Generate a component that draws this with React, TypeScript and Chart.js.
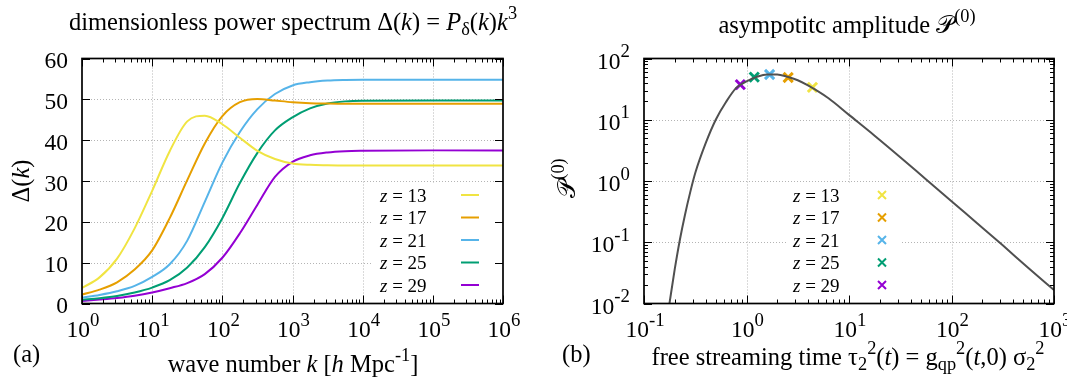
import React, { useEffect, useRef } from "react";
import { Chart, registerables } from "chart.js";

Chart.register(...registerables);

const SERIF = '"Liberation Serif", "DejaVu Serif", serif';
const SCRIPT = '"DejaVu Serif", "DejaVu Sans", "Noto Sans", serif';

// ---------------- panel (a): dimensionless power spectrum ----------------
const kValues = [1, 1.778, 3.162, 5.623, 10, 17.78, 31.62, 56.23, 100, 177.8, 316.2, 562.3, 1000, 1778, 3162, 5623, 1e4, 1e5, 1e6];
const deltaZ13 = [3.8, 6.4, 11.0, 18.4, 27.6, 37.3, 44.6, 46.0, 43.9, 40.6, 37.4, 35.4, 34.3, 33.95, 33.85, 33.8, 33.8, 33.8, 33.8];
const deltaZ17 = [2.2, 3.4, 5.2, 8.3, 13.0, 20.9, 30.2, 39.2, 45.9, 49.3, 50.1, 49.7, 49.3, 49.05, 48.95, 48.9, 48.9, 48.9, 48.9];
const deltaZ21 = [1.4, 2.1, 3.0, 4.3, 6.5, 9.6, 15.4, 24.9, 34.5, 42.0, 47.6, 51.3, 53.4, 54.2, 54.6, 54.75, 54.8, 54.8, 54.8];
const deltaZ25 = [0.9, 1.3, 1.85, 2.7, 3.9, 5.7, 8.8, 13.8, 20.9, 29.5, 36.9, 42.4, 45.6, 47.8, 49.0, 49.5, 49.65, 49.7, 49.7];
const deltaZ29 = [0.6, 0.95, 1.35, 1.9, 2.7, 3.75, 5.0, 7.2, 11.2, 17.2, 24.2, 31.0, 34.7, 36.3, 37.0, 37.3, 37.4, 37.5, 37.5];
const deltaSeries = [deltaZ13, deltaZ17, deltaZ21, deltaZ25, deltaZ29];
const redshifts = ["13", "17", "21", "25", "29"];

const kTickValues = [1, 10, 100, 1000, 1e4, 1e5, 1e6];
const kTickExponents = ["0", "1", "2", "3", "4", "5", "6"];
const deltaTickValues = [0, 10, 20, 30, 40, 50, 60];
const deltaTickLabels = ["0", "10", "20", "30", "40", "50", "60"];

// ---------------- panel (b): asymptotic amplitude ----------------
const tauValues = [0.17, 0.178, 0.1995, 0.2239, 0.2512, 0.2818, 0.3162, 0.3981, 0.5012, 0.631, 0.7943, 1, 1.259, 1.585, 1.995, 2.512, 3.162, 3.981, 6.31, 10, 17.78, 31.62, 56.23, 100, 177.8, 316.2, 562.3, 1000];
const ampValues = [0.0063, 0.0105, 0.0363, 0.11, 0.282, 0.646, 1.35, 4.07, 10, 19.5, 33.1, 42.2, 50.1, 55.0, 55.0, 50.1, 44.2, 36.3, 22.4, 12.0, 5.5, 2.45, 1.07, 0.468, 0.204, 0.0891, 0.038, 0.0166];
const markerTau = [4.4, 2.55, 1.68, 1.19, 0.87];
const markerAmp = [33.8, 48.9, 54.8, 49.7, 37.5];

const tauTickValues = [0.1, 1, 10, 100, 1000];
const tauTickExponents = ["-1", "0", "1", "2", "3"];
const ampTickValues = [0.01, 0.1, 1, 10, 100];
const ampTickExponents = ["-2", "-1", "0", "1", "2"];

const COLORS = ["#f0e442", "#e69f00", "#56b4e9", "#009e73", "#9400d3"];
const CURVE = "#505050";
const GRID = "#b4b4b4";

const TITLE = 24.5;
const AXIS = 24.5;
const TICK = 23.5;
const LEGEND = 19;

type Seg = { t: string; it?: boolean; sup?: boolean; sub?: boolean; ff?: string };
type RichOpts = { supScale?: number; supRaise?: number; subDrop?: number };

function segFont(s: Seg, size: number, o: RichOpts) {
  const sc = s.sup || s.sub ? o.supScale ?? 0.75 : 1;
  return `${s.it ? "italic " : ""}${(size * sc).toFixed(2)}px ${s.ff || SERIF}`;
}
function richWidth(ctx: CanvasRenderingContext2D, segs: Seg[], size: number, o: RichOpts = {}) {
  let w = 0;
  for (const s of segs) {
    ctx.font = segFont(s, size, o);
    w += ctx.measureText(s.t).width;
  }
  return w;
}
function drawRich(
  ctx: CanvasRenderingContext2D,
  segs: Seg[],
  x: number,
  y: number,
  size: number,
  align: "left" | "center" | "right",
  o: RichOpts = {}
) {
  const w = richWidth(ctx, segs, size, o);
  let cx = align === "left" ? x : align === "center" ? x - w / 2 : x - w;
  ctx.textAlign = "left";
  ctx.textBaseline = "alphabetic";
  ctx.fillStyle = "#000";
  for (const s of segs) {
    ctx.font = segFont(s, size, o);
    const dy = s.sup ? -size * (o.supRaise ?? 0.45) : s.sub ? size * (o.subDrop ?? 0.22) : 0;
    ctx.fillText(s.t, cx, y + dy);
    cx += ctx.measureText(s.t).width;
  }
}

function logMinor(min: number, max: number) {
  const out: number[] = [];
  for (let d = Math.floor(Math.log10(min)); d < Math.ceil(Math.log10(max)); d++) {
    for (let m = 2; m <= 9; m++) {
      const v = m * Math.pow(10, d);
      if (v > min && v < max) out.push(v);
    }
  }
  return out;
}

function drawGrid(chart: any, xs: number[], ys: number[]) {
  const { ctx, chartArea: a, scales } = chart;
  ctx.save();
  ctx.strokeStyle = GRID;
  ctx.lineWidth = 1;
  ctx.setLineDash([1, 2]);
  for (const v of xs) {
    const p = Math.round(scales.x.getPixelForValue(v)) + 0.5;
    ctx.beginPath();
    ctx.moveTo(p, a.top);
    ctx.lineTo(p, a.bottom);
    ctx.stroke();
  }
  for (const v of ys) {
    const p = Math.round(scales.y.getPixelForValue(v)) + 0.5;
    ctx.beginPath();
    ctx.moveTo(a.left, p);
    ctx.lineTo(a.right, p);
    ctx.stroke();
  }
  ctx.restore();
}

function drawFrame(chart: any, xMajor: number[], xMinor: number[], yMajor: number[], yMinor: number[]) {
  const { ctx, chartArea: a, scales } = chart;
  ctx.save();
  ctx.strokeStyle = "#000";
  ctx.lineWidth = 1;
  const seg = (x1: number, y1: number, x2: number, y2: number) => {
    ctx.beginPath();
    ctx.moveTo(x1, y1);
    ctx.lineTo(x2, y2);
    ctx.stroke();
  };
  const xt = (vals: number[], L: number) => {
    for (const v of vals) {
      const p = Math.round(scales.x.getPixelForValue(v)) + 0.5;
      seg(p, a.bottom, p, a.bottom - L);
      seg(p, a.top, p, a.top + L);
    }
  };
  const yt = (vals: number[], L: number) => {
    for (const v of vals) {
      const p = Math.round(scales.y.getPixelForValue(v)) + 0.5;
      seg(a.left, p, a.left + L, p);
      seg(a.right, p, a.right - L, p);
    }
  };
  xt(xMajor, 8);
  xt(xMinor, 4);
  yt(yMajor, 8);
  yt(yMinor, 4);
  ctx.lineWidth = 1.7;
  ctx.strokeRect(a.left, a.top, a.right - a.left, a.bottom - a.top);
  ctx.restore();
}

function drawRotated(ctx: CanvasRenderingContext2D, segs: Seg[], cx: number, cy: number, size: number, baseOff: number) {
  ctx.save();
  ctx.translate(cx, cy);
  ctx.rotate(-Math.PI / 2);
  drawRich(ctx, segs, 0, baseOff, size, "center");
  ctx.restore();
}

const tickOpts: RichOpts = { supScale: 0.8, supRaise: 0.48 };

const leftPlugin = {
  id: "leftDecor",
  beforeDatasetsDraw(chart: any) {
    drawGrid(chart, kTickValues.slice(1, -1), deltaTickValues.slice(1, -1));
  },
  afterDatasetsDraw(chart: any) {
    const { ctx, chartArea: a } = chart;
    ctx.save();
    ctx.fillStyle = "#fff";
    ctx.fillRect(372, 183, a.right - 372, 114);
    chart.data.datasets.forEach((ds: any, i: number) => {
      const y = 195 + i * 22.5;
      drawRich(ctx, [{ t: "z", it: true }, { t: " = " + redshifts[i] }], 380, y + 6.5, LEGEND, "left");
      ctx.strokeStyle = ds.borderColor;
      ctx.lineWidth = 2;
      ctx.beginPath();
      ctx.moveTo(461, y);
      ctx.lineTo(479, y);
      ctx.stroke();
    });
    ctx.restore();
  },
  afterDraw(chart: any) {
    const { ctx, scales } = chart;
    drawFrame(chart, kTickValues, logMinor(1, 1e6), deltaTickValues, []);
    kTickValues.forEach((v, i) => {
      drawRich(ctx, [{ t: "10" }, { t: kTickExponents[i], sup: true }], scales.x.getPixelForValue(v) + 1, 337, TICK, "center", tickOpts);
    });
    deltaTickValues.forEach((v, i) => {
      drawRich(ctx, [{ t: deltaTickLabels[i] }], 68, scales.y.getPixelForValue(v) + 9.5, TICK, "right");
    });
    drawRich(
      ctx,
      [
        { t: "dimensionless power spectrum Δ(" },
        { t: "k", it: true },
        { t: ") = " },
        { t: "P", it: true },
        { t: "δ", sub: true },
        { t: "(" },
        { t: "k", it: true },
        { t: ")" },
        { t: "k", it: true },
        { t: "3", sup: true },
      ],
      293,
      30,
      TITLE,
      "center"
    );
    drawRich(
      ctx,
      [{ t: "wave number " }, { t: "k", it: true }, { t: " [" }, { t: "h", it: true }, { t: " Mpc" }, { t: "-1", sup: true }, { t: "]" }],
      293,
      372,
      AXIS,
      "center"
    );
    drawRich(ctx, [{ t: "(a)" }], 13, 362, AXIS, "left");
    drawRotated(ctx, [{ t: "Δ(" }, { t: "k", it: true }, { t: ")" }], 21, 181, AXIS, 8);
  },
};

const rightPlugin = {
  id: "rightDecor",
  beforeDatasetsDraw(chart: any) {
    drawGrid(chart, tauTickValues.slice(1, -1), ampTickValues.slice(1, -1));
  },
  afterDatasetsDraw(chart: any) {
    const ctx = chart.ctx;
    const off = 533;
    ctx.save();
    ctx.fillStyle = "#fff";
    ctx.fillRect(786 - off, 183, 116, 114);
    for (let i = 0; i < redshifts.length; i++) {
      const y = 195 + i * 22.5;
      drawRich(ctx, [{ t: "z", it: true }, { t: " = " + redshifts[i] }], 793 - off, y + 6.5, LEGEND, "left");
      ctx.strokeStyle = COLORS[i];
      ctx.lineWidth = 2;
      const cx = 882 - off;
      const r = 4;
      ctx.beginPath();
      ctx.moveTo(cx - r, y - r);
      ctx.lineTo(cx + r, y + r);
      ctx.moveTo(cx - r, y + r);
      ctx.lineTo(cx + r, y - r);
      ctx.stroke();
    }
    ctx.restore();
  },
  afterDraw(chart: any) {
    const { ctx, scales } = chart;
    const off = 533;
    drawFrame(chart, tauTickValues, logMinor(0.1, 1000), ampTickValues, logMinor(0.01, 100));
    tauTickValues.forEach((v, i) => {
      drawRich(ctx, [{ t: "10" }, { t: tauTickExponents[i], sup: true }], scales.x.getPixelForValue(v) + 1, 337, TICK, "center", tickOpts);
    });
    ampTickValues.forEach((v, i) => {
      drawRich(ctx, [{ t: "10" }, { t: ampTickExponents[i], sup: true }], 630 - off, scales.y.getPixelForValue(v) + 10, TICK, "right", tickOpts);
    });
    drawRich(ctx, [{ t: "asympotitc amplitude " }, { t: "𝒫", ff: SCRIPT }, { t: "(0)", sup: true }], 847 - off, 33, TITLE, "center");
    drawRich(
      ctx,
      [
        { t: "free streaming time τ" },
        { t: "2", sub: true },
        { t: "2", sup: true },
        { t: "(" },
        { t: "t", it: true },
        { t: ") = g" },
        { t: "qp", sub: true },
        { t: "2", sup: true },
        { t: "(" },
        { t: "t", it: true },
        { t: ",0) σ" },
        { t: "2", sub: true },
        { t: "2", sup: true },
      ],
      848 - off,
      365,
      AXIS,
      "center"
    );
    drawRich(ctx, [{ t: "(b)" }], 562 - off, 362, AXIS, "left");
    drawRotated(ctx, [{ t: "𝒫", ff: SCRIPT }, { t: "(0)", sup: true }], 566 - off, 178, AXIS, 9);
  },
};

function leftConfig(): any {
  return {
    type: "line",
    data: {
      datasets: deltaSeries.map((arr, i) => ({
        label: "z = " + redshifts[i],
        data: kValues.map((k, j) => ({ x: k, y: arr[j] })),
        borderColor: COLORS[i],
        borderWidth: 2,
        pointRadius: 0,
        fill: false,
        cubicInterpolationMode: "monotone",
      })),
    },
    options: {
      animation: false,
      responsive: false,
      devicePixelRatio: 1,
      events: [],
      layout: { padding: { left: 82, right: 533 - 503, top: 58.5, bottom: 379 - 303.5 } },
      plugins: { legend: { display: false }, tooltip: { enabled: false }, title: { display: false } },
      scales: {
        x: { type: "logarithmic", min: 1, max: 1e6, display: false },
        y: { type: "linear", min: 0, max: 60, display: false },
      },
    },
    plugins: [leftPlugin],
  };
}

function rightConfig(): any {
  return {
    type: "line",
    data: {
      datasets: [
        {
          label: "curve",
          data: tauValues.map((t, j) => ({ x: t, y: ampValues[j] })),
          borderColor: CURVE,
          borderWidth: 2,
          pointRadius: 0,
          fill: false,
          cubicInterpolationMode: "monotone",
        },
        ...redshifts.map((z, i) => ({
          label: "z = " + z,
          data: [{ x: markerTau[i], y: markerAmp[i] }],
          showLine: false,
          pointStyle: "crossRot",
          pointRadius: 6.5,
          pointBorderWidth: 3,
          borderColor: COLORS[i],
          backgroundColor: COLORS[i],
        })),
      ],
    },
    options: {
      animation: false,
      responsive: false,
      devicePixelRatio: 1,
      events: [],
      layout: { padding: { left: 644 - 533, right: 1067 - 1054, top: 58.5, bottom: 379 - 303.5 } },
      plugins: { legend: { display: false }, tooltip: { enabled: false }, title: { display: false } },
      scales: {
        x: { type: "logarithmic", min: 0.1, max: 1000, display: false },
        y: { type: "logarithmic", min: 0.01, max: 100, display: false },
      },
    },
    plugins: [rightPlugin],
  };
}

export default function App() {
  const leftRef = useRef<HTMLCanvasElement>(null);
  const rightRef = useRef<HTMLCanvasElement>(null);
  useEffect(() => {
    const c1 = new Chart(leftRef.current as HTMLCanvasElement, leftConfig());
    const c2 = new Chart(rightRef.current as HTMLCanvasElement, rightConfig());
    return () => {
      c1.destroy();
      c2.destroy();
    };
  }, []);
  return (
    <div style={{ position: "fixed", left: 0, top: 0, width: 1067, height: 379, background: "#fff" }}>
      <canvas ref={leftRef} width={533} height={379} style={{ position: "absolute", left: 0, top: 0 }} />
      <canvas ref={rightRef} width={534} height={379} style={{ position: "absolute", left: 533, top: 0 }} />
    </div>
  );
}
